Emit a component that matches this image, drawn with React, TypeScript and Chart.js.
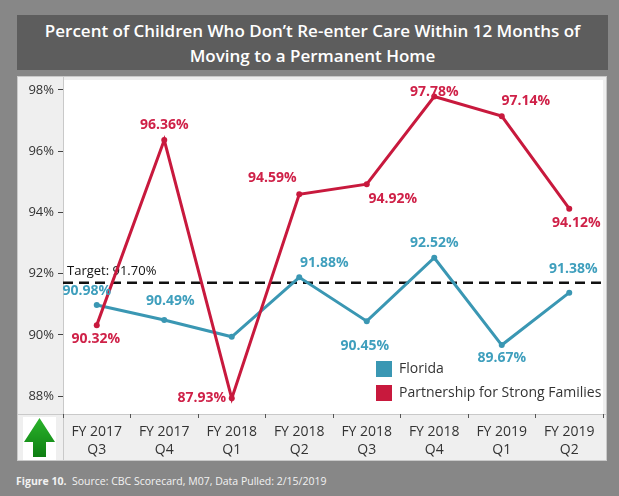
import React, { useEffect, useRef } from "react";
import { Chart, registerables } from "chart.js";

Chart.register(...registerables);

// ---- Data ----
const categories: string[][] = [
  ["FY 2017", "Q3"],
  ["FY 2017", "Q4"],
  ["FY 2018", "Q1"],
  ["FY 2018", "Q2"],
  ["FY 2018", "Q3"],
  ["FY 2018", "Q4"],
  ["FY 2019", "Q1"],
  ["FY 2019", "Q2"],
];
const floridaValues = [90.98, 90.49, 89.94, 91.88, 90.45, 92.52, 89.67, 91.38];
const floridaShowLabel = [true, true, false, true, true, true, true, true];
const psfValues = [90.32, 96.36, 87.93, 94.59, 94.92, 97.78, 97.14, 94.12];
const psfShowLabel = [true, true, true, true, true, true, true, true];
const targetValue = 91.7;
const yTicks = [88, 90, 92, 94, 96, 98];
const seriesNames = ["Florida", "Partnership for Strong Families"];

// ---- Styles ----
const FONT = "'Open Sans', 'Noto Sans', sans-serif";
const TEAL = "#3a97b3";
const TEAL_TEXT = "#3f9fbd";
const RED = "#c8193d";
const RED_TEXT = "#cf2148";
const floridaLabelOffsets = [
  [-10, -14], [6, -19], [0, 0], [25, -14], [-2, 25], [0, -15], [0, 13], [4, -24],
];
const psfLabelOffsets = [
  [-1, 14], [0, -15], [-30, 0], [-27, -16], [26, 15], [0, -5], [24, -15], [7, 14],
];

function fmt(v: number) {
  return v.toFixed(2) + "%";
}

const customPlugin = {
  id: "custom",
  beforeDraw(chart: any) {
    const { ctx, chartArea, width, height } = chart;
    ctx.save();
    ctx.fillStyle = "#efefef";
    ctx.fillRect(0, 0, width, height);
    ctx.fillStyle = "#ffffff";
    ctx.fillRect(chartArea.left, chartArea.top, chartArea.right - chartArea.left, chartArea.bottom - chartArea.top);
    // borders
    ctx.strokeStyle = "#c9c9c9";
    ctx.lineWidth = 1;
    ctx.strokeRect(0.5, 0.5, width - 1, height - 1);
    ctx.beginPath();
    ctx.moveTo(chartArea.left + 0.5, 0);
    ctx.lineTo(chartArea.left + 0.5, height);
    ctx.moveTo(0, chartArea.bottom + 0.5);
    ctx.lineTo(width, chartArea.bottom + 0.5);
    ctx.stroke();
    // arrow box
    const bx = 6, by = chartArea.bottom + 3, bw = 33, bh = 43;
    ctx.fillStyle = "#ffffff";
    ctx.fillRect(bx, by, bw, bh);
    const g = ctx.createLinearGradient(0, by, 0, by + bh);
    g.addColorStop(0, "#2cb52c");
    g.addColorStop(1, "#0b7a10");
    ctx.fillStyle = g;
    const cx = bx + bw / 2;
    ctx.beginPath();
    ctx.moveTo(cx, by + 1);
    ctx.lineTo(bx + bw - 1, by + 25);
    ctx.lineTo(cx + 6.5, by + 25);
    ctx.lineTo(cx + 6.5, by + bh - 3);
    ctx.lineTo(cx - 6.5, by + bh - 3);
    ctx.lineTo(cx - 6.5, by + 25);
    ctx.lineTo(bx + 1, by + 25);
    ctx.closePath();
    ctx.fill();
    ctx.restore();
  },
  beforeDatasetsDraw(chart: any) {
    const { ctx, chartArea, scales } = chart;
    const y = scales.y.getPixelForValue(targetValue);
    ctx.save();
    ctx.strokeStyle = "#111";
    ctx.lineWidth = 2.5;
    ctx.setLineDash([10, 6]);
    ctx.beginPath();
    ctx.moveTo(chartArea.left, y);
    ctx.lineTo(chartArea.right, y);
    ctx.stroke();
    ctx.setLineDash([]);
    ctx.fillStyle = "#111";
    ctx.font = `13px ${FONT}`;
    ctx.textAlign = "left";
    ctx.textBaseline = "middle";
    ctx.fillText("Target: " + targetValue.toFixed(2) + "%", chartArea.left + 4, y - 12);
    ctx.restore();
  },
  afterDatasetsDraw(chart: any) {
    const { ctx } = chart;
    ctx.save();
    ctx.font = `bold 14px ${FONT}`;
    ctx.textAlign = "center";
    ctx.textBaseline = "middle";
    const sets = [
      { idx: 0, vals: floridaValues, show: floridaShowLabel, off: floridaLabelOffsets, color: TEAL_TEXT },
      { idx: 1, vals: psfValues, show: psfShowLabel, off: psfLabelOffsets, color: RED_TEXT },
    ];
    for (const s of sets) {
      const meta = chart.getDatasetMeta(s.idx);
      ctx.fillStyle = s.color;
      meta.data.forEach((pt: any, i: number) => {
        if (!s.show[i]) return;
        ctx.fillText(fmt(s.vals[i]), pt.x + s.off[i][0], pt.y + s.off[i][1]);
      });
    }
    ctx.restore();
  },
  afterDraw(chart: any) {
    const { ctx, chartArea } = chart;
    ctx.save();
    const lx = chartArea.left + 313;
    const ly = chartArea.bottom - 53;
    const colors = [TEAL, RED];
    ctx.font = `14px ${FONT}`;
    ctx.textAlign = "left";
    ctx.textBaseline = "middle";
    seriesNames.forEach((name, i) => {
      const y = ly + i * 24;
      ctx.fillStyle = colors[i];
      ctx.fillRect(lx, y, 16, 16);
      ctx.fillStyle = "#333";
      ctx.fillText(name, lx + 23, y + 8.5);
    });
    ctx.restore();
  },
};

export default function App() {
  const ref = useRef<HTMLCanvasElement | null>(null);
  useEffect(() => {
    if (!ref.current) return;
    const chart = new Chart(ref.current, {
      type: "line",
      data: {
        labels: categories,
        datasets: [
          {
            label: seriesNames[0],
            data: floridaValues,
            borderColor: TEAL,
            backgroundColor: TEAL,
            borderWidth: 3,
            pointRadius: 3,
            pointBorderWidth: 0,
            tension: 0,
            order: 2,
          },
          {
            label: seriesNames[1],
            data: psfValues,
            borderColor: RED,
            backgroundColor: RED,
            borderWidth: 3,
            pointRadius: 3,
            pointBorderWidth: 0,
            tension: 0,
            order: 1,
          },
        ],
      },
      options: {
        animation: false,
        responsive: false,
        maintainAspectRatio: false,
        layout: { padding: 0 },
        plugins: {
          legend: { display: false },
          tooltip: { enabled: false },
          title: { display: false },
        },
        scales: {
          x: {
            offset: true,
            afterFit: (s: any) => {
              s.height = 47;
              s.paddingLeft = 0;
              s.paddingRight = 0;
            },
            grid: {
              offset: true,
              drawOnChartArea: false,
              drawTicks: true,
              tickLength: 4,
              color: "#555",
            },
            border: { display: false },
            ticks: {
              color: "#333",
              font: { family: FONT, size: 14, lineHeight: 1.3 },
              padding: 5,
              maxRotation: 0,
              autoSkip: false,
            },
          },
          y: {
            min: 87.42,
            max: 98.32,
            afterBuildTicks: (s: any) => {
              s.ticks = yTicks.map((v) => ({ value: v }));
            },
            afterFit: (s: any) => {
              s.width = 46;
              s.paddingTop = 0;
              s.paddingBottom = 0;
            },
            grid: {
              drawOnChartArea: false,
              drawTicks: true,
              tickLength: 5,
              color: "#444",
            },
            border: { display: false },
            ticks: {
              color: "#333",
              font: { family: FONT, size: 13 },
              padding: 4,
              callback: (v: any) => v + "%",
            },
          },
        },
      },
      plugins: [customPlugin],
    });
    return () => chart.destroy();
  }, []);

  return (
    <div
      style={{
        position: "fixed",
        left: 0,
        top: 0,
        width: 619,
        height: 496,
        background: "#878787",
        overflow: "hidden",
      }}
    >
      <div
        style={{
          position: "absolute",
          left: 17,
          top: 15,
          width: 591,
          height: 55,
          background: "#5d5d5d",
          color: "#fff",
          fontFamily: FONT,
          fontWeight: 600,
          fontSize: 17,
          lineHeight: "25px",
          textAlign: "center",
          paddingTop: 3,
          boxSizing: "border-box",
        }}
      >
        Percent of Children Who Don’t Re-enter Care Within 12 Months of
        <br />
        Moving to a Permanent Home
      </div>
      <canvas
        ref={ref}
        width={590}
        height={385}
        style={{ position: "absolute", left: 17, top: 76, width: 590, height: 385 }}
      />
      <div
        style={{
          position: "absolute",
          left: 16,
          top: 474,
          color: "#f2f2f2",
          fontFamily: FONT,
          fontSize: 10.5,
          whiteSpace: "nowrap",
        }}
      >
        <b>Figure 10.</b>&nbsp; Source: CBC Scorecard, M07, Data Pulled: 2/15/2019
      </div>
    </div>
  );
}
